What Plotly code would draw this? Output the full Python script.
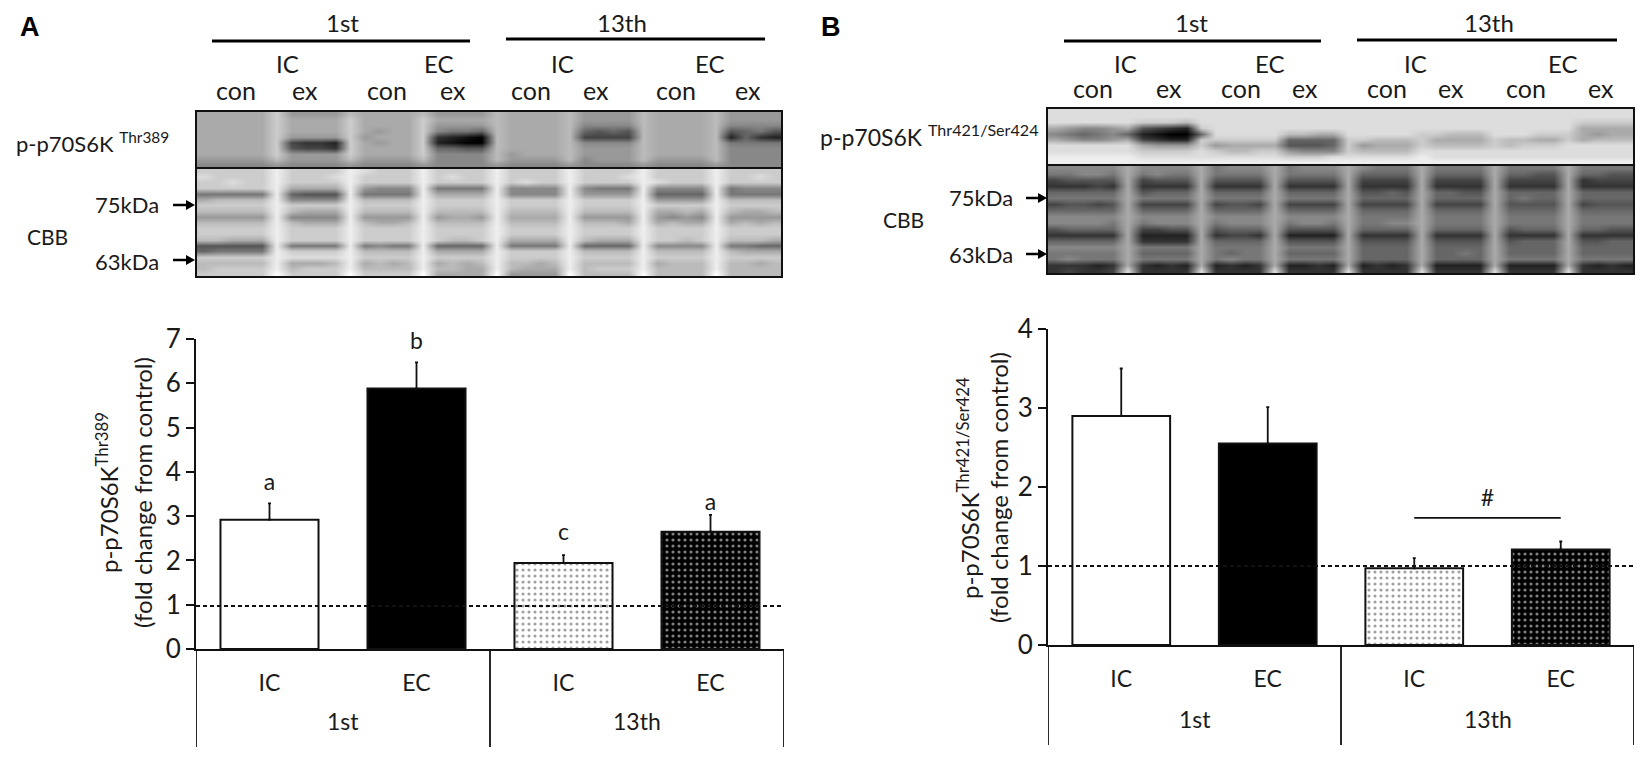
import plotly.graph_objects as go

W, H = 1650, 764
FONT = "Lato"

arm_labels = ["IC", "EC", "IC", "EC"]
session_labels = ["1st", "13th"]
lane_labels = ["con", "ex", "con", "ex", "con", "ex", "con", "ex"]

a_values = [2.92, 5.88, 1.94, 2.65]
a_errors = [0.37, 0.59, 0.18, 0.38]
a_letters = ["a", "b", "c", "a"]
a_letter_y = [3.73, 6.9, 2.59, 3.27]
a_ticks = [0, 1, 2, 3, 4, 5, 6, 7]

b_values = [2.9, 2.55, 0.97, 1.21]
b_errors = [0.6, 0.46, 0.13, 0.1]
b_ticks = [0, 1, 2, 3, 4]
b_hash_y = 1.83
b_hash_line_y = 1.61
control_line = [0.97, 1.0]

bar_colors = ["white", "black", "white", "black"]
bar_shapes = ["", "", ".", "."]
dot_colors = ["white", "black", "#c4c4c4", "#5c5c5c"]

# blot grey levels, one hex digit per cell (0 black .. f white), lanes split by spaces
a_phospho = [
    "aaaaa c 9999 b aaaa b 9999 b aaaa b 9999 b aaaa b 9999",
    "aaaaa c aaaa c aaaa c aaaa b aaaa b 9999 b aaaa b 9999",
    "aaaaa c aaaa c aaaa c 9999 b aaaa b 8888 b aaaa b 8888",
    "aaaaa c aaaa c a9aa c 8776 b aaaa b 6565 b aaaa b 5675",
    "aaaaa c 9999 c 9aaa c 3210 b aaaa b 4444 b aaaa b 2632",
    "aaaaa c 4332 c a9aa c 2100 b aaaa b 8888 b aaaa b 7777",
    "aaaaa c 5443 c aaaa c 6655 b aaaa b 9999 b aaaa b 8888",
    "aaaaa c 9999 c aaaa c 8888 b 9aaa b 9999 b aaaa b 8888",
    "99999 b 9999 b 9999 b 8888 b 9999 b 8999 b 9999 b 8888",
    "88888 9 8888 9 8888 9 8888 9 8888 9 8888 9 8888 9 8888",
]
a_cbb = [
    "ccccc e cccc e dccc e cccc e cccc e cccc e cccc e cccc",
    "dcccc e cccd e cccc e cdcc e cccc e cccd e cccc e ccdc",
    "ccdcc e cccc e cccc e cccc e cdcc e cccc e dccc e cccc",
    "ccccc e aaaa e 9888 e 7777 e 8888 e 8777 e 8888 e 7888",
    "77777 e 6555 e 7777 e aaaa e 8888 e 9999 e 6666 e 7777",
    "abbbb e 8888 e bbbb e cccc e cccc e cccc e 9999 e bbbb",
    "ccccc e cccc e cccc e cccc e cccc e cccc e cccc e cccc",
    "bbbbb e baaa e bbbb e bbbb e bbbb e bbbb e aaba e baab",
    "99999 e 8888 e 9999 e 9aa9 e aaaa e 9999 e 9898 e 9999",
    "bbbbb e baaa e baab e bbbb e bbbb e bbba e abaa e abab",
    "ccccc e cccc e cccc e cccc e cccc e cccc e cccc e cccc",
    "ccccc e cccc e cccc e cccc e cccc e cccc e cccc e cccc",
    "bbaaa e cccc e cccc e cbbc e aaaa e baaa e ccbc e bbba",
    "55555 e 7777 e 7877 e 6666 e 7777 e 6666 e 8888 e 7766",
    "67777 e cccc e bbbb e aaaa e cccc e bbbb e bbbb e baaa",
    "ccccc e dddd e cccc e cccc e cccc e cccc e cccc e cccc",
    "bbbbb e aaab e abab e abab e bbab e bbbb e abbb e bbab",
    "bcccc e bccc e bbbb e bbaa e baaa e bccc e bbbb e bbbb",
    "ccccc f cccc f cccc f aaaa f 9999 f bbbb f bbbb f bbbb",
]
b_phospho = [
    "ddddd d dddd d dddd d dddd d dddd d dddd d dddd d dddd",
    "ddddd d dddd d dddd d dddd d dddd d dddd d dddd d dddd",
    "ddddd d cccb d dddd d dddd d dddd d dddd d dddd d cccc",
    "a9889 a 5432 c dddd d dddd d dddd d dddd d dddd d aaaa",
    "87678 6 2100 6 dddd d bbaa d dddd c cbbb d ddcc c a9aa",
    "a9889 a 4322 c cccc c 6666 c cbbb c aaaa c bbaa c abbb",
    "ddddd d a999 c 9aaa a 5556 c 9aaa c bbbb c bccc d dddd",
    "ddddd d cccc d cbbc c 9888 c bbbb d dddd d dddd d dddd",
    "eeeee e dddd d dddd d cccd d dddd e dddd d dddd d dddd",
    "eeeee e eeee e eeee e eeee e eeee e eeee e eeee e eeee",
]
b_cbb = [
    "88888 a 8888 a 7888 a 7888 a 8777 a 7777 a 7777 a 7777",
    "77887 a 7877 a 7777 a 7777 a 6666 a 6666 a 6655 a 6655",
    "45555 a 4555 a 5555 a 5555 a 4444 a 4444 a 4444 a 3444",
    "33343 a 3333 a 3333 a 3333 a 3333 a 3333 a 3333 a 3333",
    "66666 a 5666 a 6666 a 6666 a 5565 a 6655 a 6666 a 6666",
    "77777 a 7777 a 7777 a 7777 a 6666 a 6666 a 6766 a 6666",
    "45545 a 4444 a 4554 a 4444 a 4444 a 4444 a 5555 a 4555",
    "66666 a 6666 a 6666 a 6666 a 6666 a 6666 a 6666 a 6666",
    "88888 a 8888 a 8888 a 8888 a 7777 a 7777 a 7777 a 7777",
    "88887 a 7888 a 7888 a 7887 a 7788 a 7777 a 7777 a 7777",
    "56666 a 4455 a 5666 a 5555 a 6666 a 6666 a 5666 a 6655",
    "33333 a 2222 a 3443 a 2222 a 3333 a 3333 a 3333 a 3333",
    "66666 a 3333 a 6666 a 5555 a 5555 a 5555 a 5666 a 5566",
    "88888 a 7777 a 7777 a 7777 a 6666 a 6666 a 6666 a 6666",
    "77777 a 6666 a 7677 a 6666 a 6666 a 6676 a 6666 a 6666",
    "78777 a 7777 a 7877 a 7777 a 6666 a 6666 a 7777 a 7777",
    "33323 a 3232 a 2323 a 2232 a 2323 a 2222 a 2222 a 3232",
    "34334 d 3333 d 3333 d 3333 d 3333 d 3333 d 3333 d 3333",
]


def to_grid(rows):
    return [[int(c, 16) for c in r.replace(" ", "")] for r in rows]


def px(x):
    return x / W


def py(y):
    return 1 - y / H


fig = go.Figure()
annotations = []
shapes = []
layout_axes = {}


def text(x, y, label, size=24, angle=0, color="#1a1a1a", family=FONT):
    annotations.append(dict(
        x=px(x), y=py(y), xref="paper", yref="paper", text=label, showarrow=False,
        textangle=angle, font=dict(family=family, size=size, color=color),
        xanchor="center", yanchor="middle", align="center",
    ))


def hline(x0, x1, y, width=3):
    shapes.append(dict(type="line", xref="paper", yref="paper", x0=px(x0), x1=px(x1),
                       y0=py(y), y1=py(y), line=dict(color="black", width=width)))


def arrow(x0, x1, y):
    shapes.append(dict(type="line", xref="paper", yref="paper", x0=px(x0), x1=px(x1 - 6),
                       y0=py(y), y1=py(y), line=dict(color="black", width=2.5)))
    tri = f"M {px(x1 - 9)} {py(y - 5)} L {px(x1)} {py(y)} L {px(x1 - 9)} {py(y + 5)} Z"
    shapes.append(dict(type="path", xref="paper", yref="paper", path=tri,
                       fillcolor="black", line=dict(color="black", width=0)))


def add_blot(n, rows, left, right, top, bottom):
    fig.add_trace(go.Heatmap(
        z=to_grid(rows), zmin=0, zmax=15, zsmooth="best", showscale=False, hoverinfo="skip",
        colorscale=[[0, "#000000"], [1, "#ffffff"]], xaxis=f"x{n}", yaxis=f"y{n}",
    ))
    layout_axes[f"xaxis{n}"] = dict(domain=[px(left), px(right)], visible=False, fixedrange=True, anchor=f"y{n}")
    layout_axes[f"yaxis{n}"] = dict(domain=[py(bottom), py(top)], visible=False, fixedrange=True,
                                    autorange="reversed", anchor=f"x{n}")
    shapes.append(dict(type="rect", xref="paper", yref="paper", x0=px(left), x1=px(right),
                       y0=py(bottom), y1=py(top), line=dict(color="#111111", width=2)))


def add_bars(n, values, errors, ticks, left, right, y_zero, y_top, end_y, control):
    xa, ya = ("x", "y") if n == 1 else (f"x{n}", f"y{n}")
    fig.add_trace(go.Bar(
        x=list(range(4)), y=values, xaxis=xa, yaxis=ya, width=0.667, showlegend=False,
        marker=dict(
            color=bar_colors, line=dict(color="#111111", width=2),
            pattern=dict(shape=bar_shapes, fgcolor=dot_colors, bgcolor=bar_colors, size=6, solidity=0.22),
        ),
        error_y=dict(type="data", symmetric=False, array=errors, arrayminus=[0, 0, 0, 0],
                     color="#111111", thickness=1.8, width=1.5),
    ))
    suffix = "" if n == 1 else str(n)
    layout_axes[f"xaxis{suffix}"] = dict(
        domain=[px(left), px(right)], range=[-0.5, 3.5], anchor=ya, tickmode="array",
        tickvals=list(range(4)), ticktext=arm_labels, ticks="outside", ticklen=12,
        tickcolor="rgba(0,0,0,0)", tickfont=dict(family=FONT, size=23, color="#1a1a1a"),
        showline=True, linecolor="#111111", linewidth=2, showgrid=False, zeroline=False, fixedrange=True,
    )
    layout_axes[f"yaxis{suffix}"] = dict(
        domain=[py(y_zero), py(y_top)], range=[0, ticks[-1]], anchor=xa, tickmode="array",
        tickvals=ticks, ticks="outside", ticklen=8, tickwidth=2, tickcolor="#111111",
        tickfont=dict(family=FONT, size=26, color="#1a1a1a"),
        showline=True, linecolor="#111111", linewidth=2, showgrid=False, zeroline=False, fixedrange=True,
    )
    # table dividers under the axis
    for pos in [-0.5, 1.5, 3.5]:
        shapes.append(dict(type="line", xref=xa, yref="paper", x0=pos, x1=pos,
                           y0=py(y_zero), y1=py(end_y), line=dict(color="#111111", width=1.8)))
    shapes.append(dict(type="line", xref=f"{xa} domain", yref=ya, x0=0, x1=1, y0=control, y1=control,
                       line=dict(color="#111111", width=2, dash="4px,3px")))
    for pos, label in zip([0.5, 2.5], session_labels):
        annotations.append(dict(
            x=pos, y=py(end_y - 26), xref=xa, yref="paper", text=label, showarrow=False, yanchor="middle",
            font=dict(family=FONT, size=23, color="#1a1a1a"),
        ))


# panel A
add_blot(3, a_phospho, 196, 782, 111, 168)
add_blot(4, a_cbb, 196, 782, 168, 277)
add_bars(1, a_values, a_errors, a_ticks, 196, 784, 649, 339, 747, control_line[0])
fig.add_trace(go.Scatter(
    x=list(range(4)), y=a_letter_y, mode="text", text=a_letters, showlegend=False, cliponaxis=False,
    textfont=dict(family=FONT, size=23, color="#1a1a1a"), xaxis="x", yaxis="y",
))

text(30, 27, "<b>A</b>", size=27, color="black", family="Liberation Sans")
text(342, 23, session_labels[0])
text(622, 23, session_labels[1])
hline(212, 470, 41)
hline(506, 765, 39)
for x, label in zip([287, 439, 562, 710], arm_labels):
    text(x, 64, label)
for x, label in zip([236, 305, 387, 453, 531, 596, 676, 748], lane_labels):
    text(x, 90, label, size=25)
text(92, 142, "p-p70S6K <sup>Thr389</sup>", size=22)
text(47, 237, "CBB", size=21)
text(127, 205, "75kDa", size=22)
text(127, 261, "63kDa", size=22)
arrow(173, 195, 205)
arrow(173, 195, 260)
text(107, 493, "p-p70S6K<sup>Thr389</sup>", size=24, angle=-90)
text(142, 493, "(fold change from control)", size=24, angle=-90)

# panel B
add_blot(5, b_phospho, 1047, 1634, 108, 165)
add_blot(6, b_cbb, 1047, 1634, 165, 274)
add_bars(2, b_values, b_errors, b_ticks, 1048, 1634, 645, 329, 745, control_line[1])
fig.add_trace(go.Scatter(
    x=[2, 3], y=[b_hash_line_y, b_hash_line_y], mode="lines", showlegend=False,
    line=dict(color="#111111", width=1.8), xaxis="x2", yaxis="y2",
))
fig.add_trace(go.Scatter(
    x=[2.5], y=[b_hash_y], mode="text", text=["#"], showlegend=False,
    textfont=dict(family=FONT, size=23, color="#1a1a1a"), xaxis="x2", yaxis="y2",
))

text(831, 27, "<b>B</b>", size=27, color="black", family="Liberation Sans")
text(1191, 23, session_labels[0])
text(1489, 23, session_labels[1])
hline(1064, 1321, 41)
hline(1357, 1617, 40)
for x, label in zip([1125, 1270, 1415, 1563], arm_labels):
    text(x, 63, label)
for x, label in zip([1093, 1169, 1241, 1305, 1387, 1451, 1526, 1601], lane_labels):
    text(x, 88, label, size=25)
text(929, 135, "p-p70S6K <sup>Thr421/Ser424</sup>", size=23)
text(903, 219, "CBB", size=21)
text(981, 197, "75kDa", size=22)
text(981, 254, "63kDa", size=22)
arrow(1026, 1047, 198)
arrow(1026, 1047, 254)
text(968, 488, "p-p70S6K<sup>Thr421/Ser424</sup>", size=24, angle=-90)
text(998, 488, "(fold change from control)", size=24, angle=-90)

fig.update_layout(
    width=W, height=H, margin=dict(l=0, r=0, t=0, b=0, autoexpand=False),
    paper_bgcolor="white", plot_bgcolor="rgba(0,0,0,0)",
    showlegend=False, shapes=shapes, annotations=annotations, bargap=0.33, **layout_axes,
)

fig.write_html("out.html", config={"displayModeBar": False}, post_script="document.body.style.margin='0';")
